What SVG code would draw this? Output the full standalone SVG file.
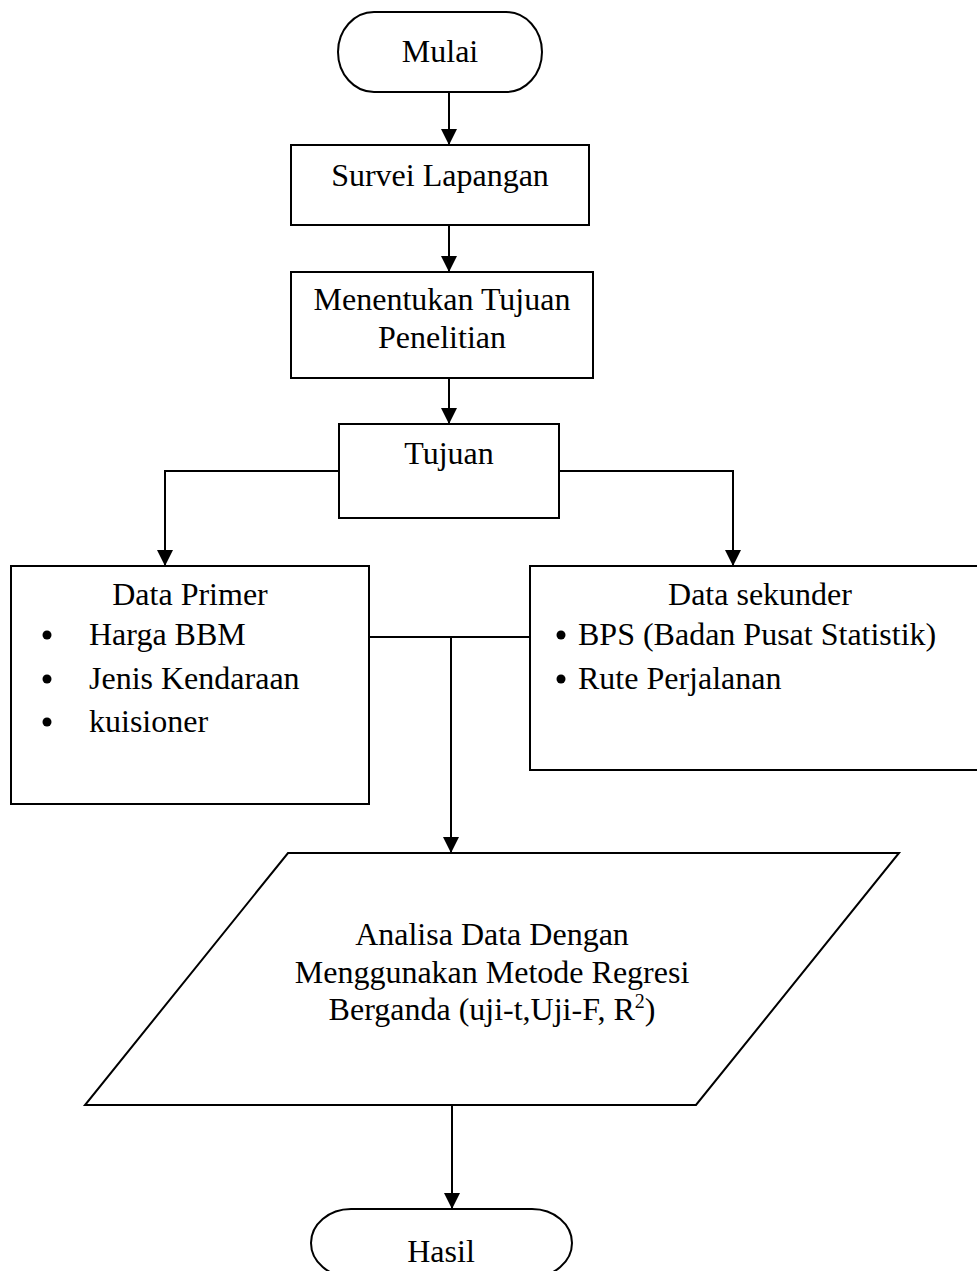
<svg xmlns="http://www.w3.org/2000/svg" width="977" height="1271" viewBox="0 0 977 1271">
<style>
.s{fill:#fff;stroke:#000;stroke-width:2}
.t{font-family:"Liberation Serif","Times New Roman",serif;font-size:32px;fill:#000}
.m{text-anchor:middle}
.c{fill:none;stroke:#000;stroke-width:2}
</style>
<defs>
<marker id="ah" markerWidth="16" markerHeight="16" refX="16" refY="8" orient="auto" markerUnits="userSpaceOnUse">
<path d="M0,0 L16,8 L0,16 Z" fill="#000"/>
</marker>
</defs>
<rect width="977" height="1271" fill="#fff"/>
<g id="connectors">
<path class="c" d="M449,92 V145" marker-end="url(#ah)"/>
<path class="c" d="M449,225 V272" marker-end="url(#ah)"/>
<path class="c" d="M449,378 V424" marker-end="url(#ah)"/>
<path class="c" d="M339,471 H165 V566" marker-end="url(#ah)"/>
<path class="c" d="M559,471 H733 V566" marker-end="url(#ah)"/>
<path class="c" d="M369,637 H530"/>
<path class="c" d="M451,637 V853" marker-end="url(#ah)"/>
<path class="c" d="M452,1105 V1209" marker-end="url(#ah)"/>
</g>
<g id="mulai">
<rect class="s" x="338" y="12" width="204" height="80" rx="36" ry="40"/>
<text class="t m" x="440" y="62">Mulai</text>
</g>
<g id="survei">
<rect class="s" x="291" y="145" width="298" height="80"/>
<text class="t m" x="440" y="186">Survei Lapangan</text>
</g>
<g id="menentukan">
<rect class="s" x="291" y="272" width="302" height="106"/>
<text class="t m" x="442" y="310">Menentukan Tujuan</text>
<text class="t m" x="442" y="348">Penelitian</text>
</g>
<g id="tujuan">
<rect class="s" x="339" y="424" width="220" height="94"/>
<text class="t m" x="449" y="464">Tujuan</text>
</g>
<g id="data-primer">
<rect class="s" x="11" y="566" width="358" height="238"/>
<text class="t m" x="190" y="605">Data Primer</text>
<circle cx="47" cy="635" r="4.5"/>
<text class="t" x="89" y="645">Harga BBM</text>
<circle cx="47" cy="679" r="4.5"/>
<text class="t" x="89" y="689">Jenis Kendaraan</text>
<circle cx="47" cy="722" r="4.5"/>
<text class="t" x="89" y="732">kuisioner</text>
</g>
<g id="data-sekunder">
<rect class="s" x="530" y="566" width="470" height="204"/>
<text class="t m" x="760" y="605">Data sekunder</text>
<circle cx="561" cy="635" r="4.5"/>
<text class="t" x="578" y="645">BPS (Badan Pusat Statistik)</text>
<circle cx="561" cy="679" r="4.5"/>
<text class="t" x="578" y="689">Rute Perjalanan</text>
</g>
<g id="analisa">
<polygon class="s" points="288,853 899,853 696,1105 85,1105"/>
<text class="t m" x="492" y="945">Analisa Data Dengan</text>
<text class="t m" x="492" y="983">Menggunakan Metode Regresi</text>
<text class="t m" x="492" y="1020">Berganda (uji-t,Uji-F, R<tspan dy="-12" font-size="20">2</tspan><tspan dy="12">)</tspan></text>
</g>
<g id="hasil">
<rect class="s" x="311" y="1209" width="261" height="68" rx="40" ry="34"/>
<text class="t m" x="441" y="1262">Hasil</text>
</g>
</svg>
